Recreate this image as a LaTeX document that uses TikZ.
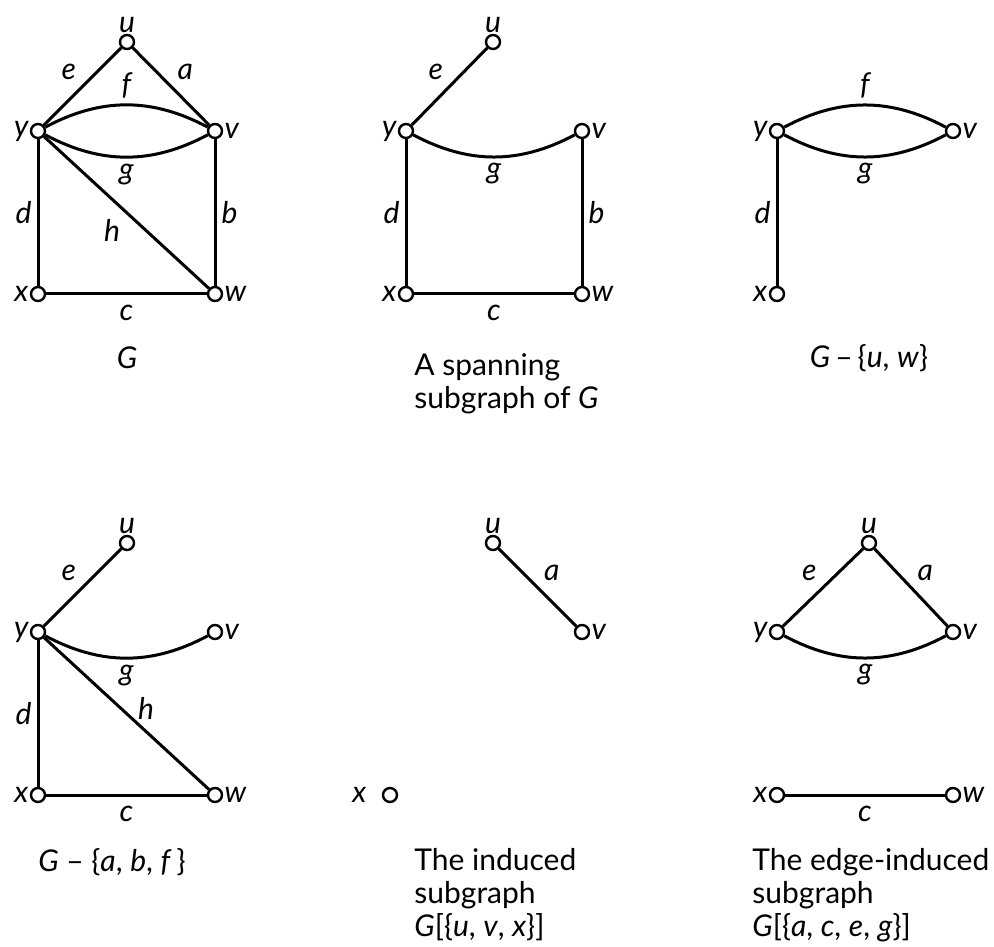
\documentclass[tikz,border=0pt]{standalone}
\usepackage{fontspec}
\setmainfont{Lato}
\begin{document}
\begin{tikzpicture}[x=0.5pt, y=-0.5pt,
  txt/.style={font=\fontsize{15pt}{16.5pt}\selectfont},
  vtx/.style={circle, draw, fill=white, line width=1.2pt, minimum size=7pt, inner sep=0pt},
  vl/.style={font=\fontsize{15pt}{16.5pt}\selectfont\itshape, inner sep=0.5pt},
  edg/.style={line width=1.5pt},
  el/.style={font=\fontsize{15pt}{16.5pt}\selectfont\itshape, inner sep=2.5pt},
  captxt/.style={font=\fontsize{15pt}{16.5pt}\selectfont, align=left, anchor=west, inner sep=0pt}]
\useasboundingbox (0,0) rectangle (994,946);

% ---------- G ----------
\node[vtx, label={[vl]above:u}] (Au) at (127,42) {};
\node[vtx, label={[vl]left:y}] (Ay) at (38,131) {};
\node[vtx, label={[vl]right:v}] (Av) at (215,131) {};
\node[vtx, label={[vl]left:x}] (Ax) at (38,294) {};
\node[vtx, label={[vl]right:w}] (Aw) at (215,294) {};
\draw[edg] (Ay) -- node[el, above left] {e} (Au);
\draw[edg] (Au) -- node[el, above right] {a} (Av);
\draw[edg] (Ay) to[bend left=28] node[el, above] {f} (Av);
\draw[edg] (Ay) to[bend right=28] node[el, below] {g} (Av);
\draw[edg] (Ay) -- node[el, below left, pos=0.5] {h} (Aw);
\draw[edg] (Ay) -- node[el, left] {d} (Ax);
\draw[edg] (Av) -- node[el, right] {b} (Aw);
\draw[edg] (Ax) -- node[el, below, inner sep=5pt] {c} (Aw);
\node[txt] (Acap) at (127,358) {\textit{G}};

% ---------- spanning subgraph ----------
\node[vtx, label={[vl]above:u}] (Bu) at (493,42) {};
\node[vtx, label={[vl]left:y}] (By) at (406,131) {};
\node[vtx, label={[vl]right:v}] (Bv) at (582,131) {};
\node[vtx, label={[vl]left:x}] (Bx) at (406,294) {};
\node[vtx, label={[vl]right:w}] (Bw) at (582,294) {};
\draw[edg] (By) -- node[el, above left] {e} (Bu);
\draw[edg] (By) to[bend right=28] node[el, below] {g} (Bv);
\draw[edg] (By) -- node[el, left] {d} (Bx);
\draw[edg] (Bv) -- node[el, right] {b} (Bw);
\draw[edg] (Bx) -- node[el, below, inner sep=5pt] {c} (Bw);
\node[captxt] (Bcap) at (414,384) {A spanning\\subgraph of \textit{G}};

% ---------- G - {u,w} ----------
\node[vtx, label={[vl]left:y}] (Cy) at (777,131) {};
\node[vtx, label={[vl]right:v}] (Cv) at (953,131) {};
\node[vtx, label={[vl]left:x}] (Cx) at (777,294) {};
\draw[edg] (Cy) to[bend left=28] node[el, above] {f} (Cv);
\draw[edg] (Cy) to[bend right=28] node[el, below] {g} (Cv);
\draw[edg] (Cy) -- node[el, left] {d} (Cx);
\node[txt] (Ccap) at (869,358) {\textit{G}\,–\,\{\textit{u}, \textit{w}\}};

% ---------- G - {a,b,f} ----------
\node[vtx, label={[vl]above:u}] (Du) at (127,543) {};
\node[vtx, label={[vl]left:y}] (Dy) at (38,632) {};
\node[vtx, label={[vl]right:v}] (Dv) at (215,632) {};
\node[vtx, label={[vl]left:x}] (Dx) at (38,795) {};
\node[vtx, label={[vl]right:w}] (Dw) at (215,795) {};
\draw[edg] (Dy) -- node[el, above left] {e} (Du);
\draw[edg] (Dy) to[bend right=28] node[el, below] {g} (Dv);
\draw[edg] (Dy) -- node[el, right, pos=0.47, xshift=5pt] {h} (Dw);
\draw[edg] (Dy) -- node[el, left] {d} (Dx);
\draw[edg] (Dx) -- node[el, below, inner sep=5pt] {c} (Dw);
\node[txt] (Dcap) at (112,862) {\textit{G} – \{\textit{a}, \textit{b}, \textit{f}\,\}};

% ---------- induced subgraph ----------
\node[vtx, label={[vl]above:u}] (Eu) at (493,543) {};
\node[vtx, label={[vl]right:v}] (Ev) at (582,632) {};
\node[vtx, label={[vl, xshift=-7pt]left:x}] (Ex) at (390,795) {};
\draw[edg] (Eu) -- node[el, above right] {a} (Ev);
\node[captxt] (Ecap) at (414,895) {The induced\\subgraph\\\textit{G}[\{\textit{u}, \textit{v}, \textit{x}\}]};

% ---------- edge-induced subgraph ----------
\node[vtx, label={[vl]above:u}] (Fu) at (869,543) {};
\node[vtx, label={[vl]left:y}] (Fy) at (777,632) {};
\node[vtx, label={[vl]right:v}] (Fv) at (953,632) {};
\node[vtx, label={[vl]left:x}] (Fx) at (777,795) {};
\node[vtx, label={[vl]right:w}] (Fw) at (953,795) {};
\draw[edg] (Fy) -- node[el, above left] {e} (Fu);
\draw[edg] (Fu) -- node[el, above right] {a} (Fv);
\draw[edg] (Fy) to[bend right=28] node[el, below] {g} (Fv);
\draw[edg] (Fx) -- node[el, below, inner sep=5pt] {c} (Fw);
\node[captxt] (Fcap) at (752,895) {The edge-induced\\subgraph\\\textit{G}[\{\textit{a}, \textit{c}, \textit{e}, \textit{g}\}]};
\end{tikzpicture}
\end{document}
